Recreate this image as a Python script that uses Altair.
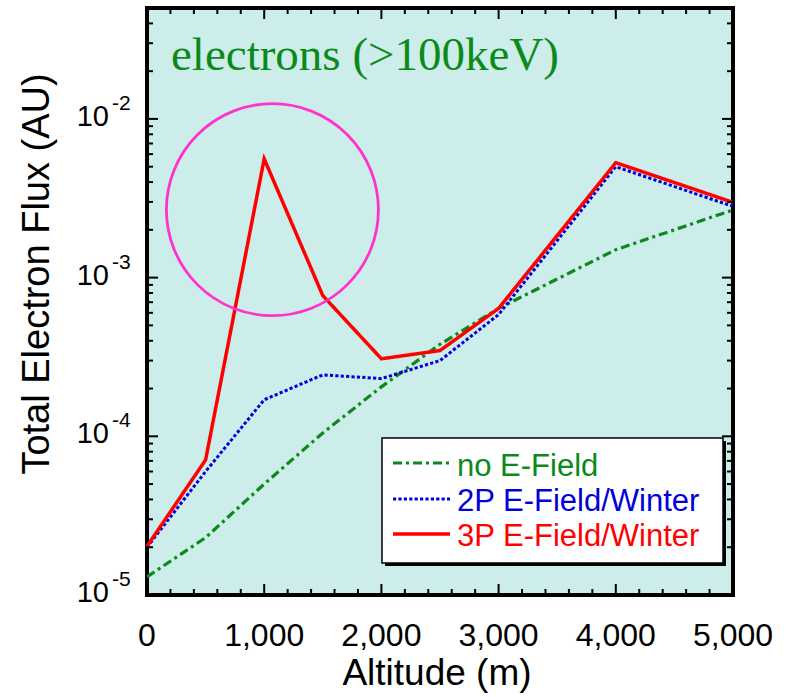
import altair as alt
import pandas as pd

# ---------------- data ----------------
altitude = [0, 500, 1000, 1500, 2000, 2500, 3000, 4000, 5000]
flux_no_field = [1.3e-5, 2.3e-5, 5.0e-5, 1.05e-4, 2.05e-4, 3.8e-4, 6.4e-4, 1.5e-3, 2.67e-3]
flux_2p = [2.0e-5, 6.0e-5, 1.7e-4, 2.44e-4, 2.31e-4, 3.0e-4, 5.85e-4, 5.0e-3, 2.81e-3]
flux_3p = [2.03e-5, 7.1e-5, 5.6e-3, 7.7e-4, 3.08e-4, 3.47e-4, 6.4e-4, 5.3e-3, 2.98e-3]

series_names = ["no E-Field", "2P E-Field/Winter", "3P E-Field/Winter"]
series_colors = ["#0b8a1a", "#0000dd", "#ff0000"]
series_dash = [[9, 4, 3, 4], [3.2, 2.2], [1, 0]]
series_width = [3.2, 3.0, 3.5]

circle_altitude = [1070]
circle_flux = [2.68e-3]
circle_diameter_px = 212

x_tick_labels = ["0", "1,000", "2,000", "3,000", "4,000", "5,000"]
x_major = [0, 1000, 2000, 3000, 4000, 5000]
x_minor = [v for v in range(0, 5001, 200) if v % 1000 != 0]
y_major = [1e-5, 1e-4, 1e-3, 1e-2]
y_exp = ["-5", "-4", "-3", "-2"]
y_minor = [k * 10.0 ** e for e in range(-5, -1) for k in range(2, 10) if k * 10.0 ** e < 4.9e-2]

W, H = 586, 587
FONT = "Liberation Sans"

xs = alt.Scale(domain=[0, 5000], nice=False, zero=False)
ys = alt.Scale(type="log", domain=[1e-5, 5e-2], nice=False)

layers = []

# ---------------- data lines ----------------
series_values = [flux_no_field, flux_2p, flux_3p]
for name, vals, col, dash, sw in zip(series_names, series_values, series_colors, series_dash, series_width):
    df = pd.DataFrame({"altitude": altitude, "flux": vals, "series": name})
    layers.append(
        alt.Chart(df).mark_line(color=col, strokeDash=dash, strokeWidth=sw, strokeCap="butt", strokeJoin="miter")
        .encode(x=alt.X("altitude:Q", scale=xs, axis=None),
                y=alt.Y("flux:Q", scale=ys, axis=None))
    )

# ---------------- magenta circle ----------------
cdf = pd.DataFrame({"altitude": circle_altitude, "flux": circle_flux})
layers.append(
    alt.Chart(cdf).mark_point(shape="circle", filled=False, size=circle_diameter_px ** 2,
                              stroke="#ff33cc", strokeWidth=2.8, opacity=1)
    .encode(x=alt.X("altitude:Q", scale=xs, axis=None),
            y=alt.Y("flux:Q", scale=ys, axis=None))
)

# ---------------- inward ticks on all four sides ----------------
def yticks(vals, length, right):
    d = pd.DataFrame({"v": vals})
    x0 = W - length if right else 0
    return alt.Chart(d).mark_rule(color="black", strokeWidth=2).encode(
        y=alt.Y("v:Q", scale=ys, axis=None), x=alt.value(x0), x2=alt.value(x0 + length))

def xticks(vals, length, top):
    d = pd.DataFrame({"v": vals})
    y0 = 0 if top else H - length
    return alt.Chart(d).mark_rule(color="black", strokeWidth=2).encode(
        x=alt.X("v:Q", scale=xs, axis=None), y=alt.value(y0), y2=alt.value(y0 + length))

for right in (False, True):
    layers.append(yticks(y_major, 11, right))
    layers.append(yticks(y_minor, 6, right))
for top in (False, True):
    layers.append(xticks(x_major, 11, top))
    layers.append(xticks(x_minor, 6, top))

# ---------------- y tick labels 10^n ----------------
ydf = pd.DataFrame({"v": y_major, "base": ["10"] * 4, "exp": y_exp})
layers.append(alt.Chart(ydf).mark_text(align="right", baseline="alphabetic", dy=7, fontSize=29, font=FONT, color="black")
              .encode(y=alt.Y("v:Q", scale=ys, axis=None), x=alt.value(-38), text="base:N"))
layers.append(alt.Chart(ydf).mark_text(align="left", baseline="alphabetic", dy=-9, fontSize=21, font=FONT, color="black")
              .encode(y=alt.Y("v:Q", scale=ys, axis=None), x=alt.value(-35), text="exp:N"))

# ---------------- x tick labels ----------------
xdf = pd.DataFrame({"v": x_major, "label": x_tick_labels})
layers.append(alt.Chart(xdf).mark_text(align="center", baseline="alphabetic", fontSize=32, font=FONT, color="black")
              .encode(x=alt.X("v:Q", scale=xs, axis=None), y=alt.value(638), text="label:N"))

# ---------------- titles ----------------
dummy = pd.DataFrame({"a": [0]})
layers.append(alt.Chart(dummy).mark_text(text="Total Electron Flux (AU)", angle=270, align="center",
                                          baseline="alphabetic", fontSize=38, font=FONT, color="black")
              .encode(x=alt.value(-98), y=alt.value(266)))
layers.append(alt.Chart(dummy).mark_text(text="Altitude (m)", align="center", baseline="alphabetic",
                                          fontSize=37, font=FONT, color="black")
              .encode(x=alt.value(290), y=alt.value(677)))
layers.append(alt.Chart(dummy).mark_text(text="electrons (>100keV)", align="left", baseline="alphabetic",
                                          fontSize=47, font="Liberation Serif", color="#0b8a1a")
              .encode(x=alt.value(24), y=alt.value(62)))

# ---------------- legend box ----------------
bx0, bx1, by0, by1 = 235, 576, 430, 555
layers.append(alt.Chart(dummy).mark_rect(color="black")
              .encode(x=alt.value(bx0 + 3), x2=alt.value(bx1 + 3), y=alt.value(by0 + 3), y2=alt.value(by1 + 3)))
layers.append(alt.Chart(dummy).mark_rect(fill="white", stroke="black", strokeWidth=1.5)
              .encode(x=alt.value(bx0), x2=alt.value(bx1), y=alt.value(by0), y2=alt.value(by1)))
sym_y = [455, 491, 526]
txt_y = [468, 503, 538]
for name, col, dash, sw, sy, ty in zip(series_names, series_colors, series_dash, series_width, sym_y, txt_y):
    layers.append(alt.Chart(dummy).mark_rule(color=col, strokeDash=dash, strokeWidth=sw, strokeCap="butt")
                  .encode(x=alt.value(246), x2=alt.value(303), y=alt.value(sy)))
    layers.append(alt.Chart(dummy).mark_text(text=name, align="left", baseline="alphabetic", fontSize=31,
                                              font=FONT, color=col)
                  .encode(x=alt.value(310), y=alt.value(ty)))

chart = alt.layer(*layers).properties(
    width=W, height=H,
    autosize=alt.AutoSizeParams(type="none"),
    padding={"left": 147, "top": 8, "right": 55, "bottom": 102},
    background="white",
).configure_view(fill="#CCEDE9", stroke="black", strokeWidth=4)

chart.save("out.html", embed_options={"renderer": "svg", "actions": False})
